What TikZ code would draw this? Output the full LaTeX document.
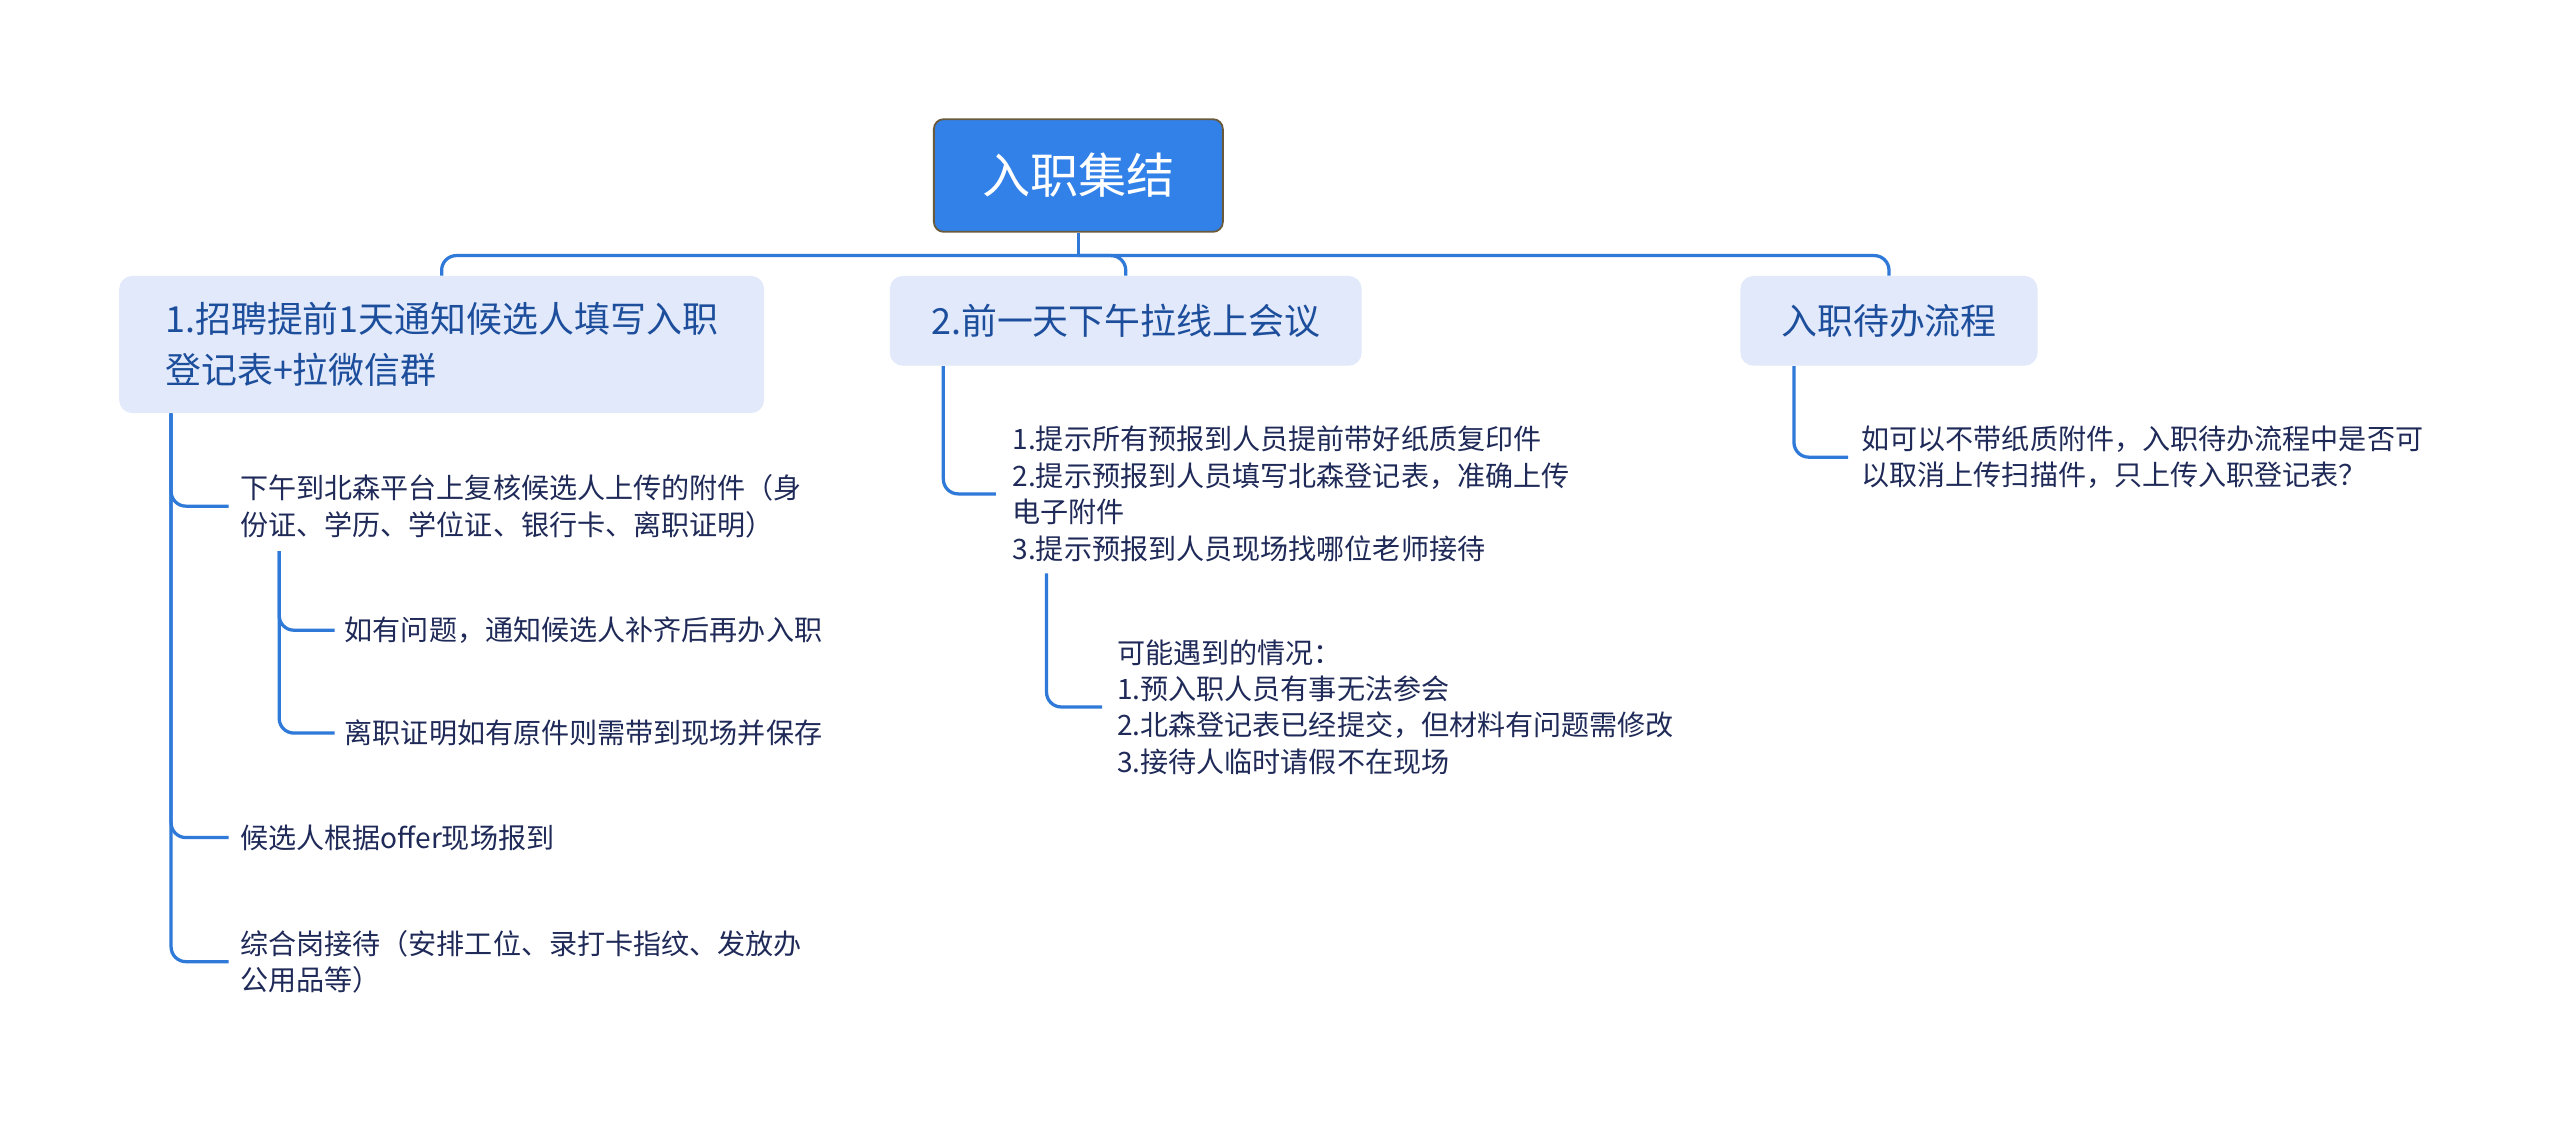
\documentclass[tikz,border=0pt]{standalone}
\usepackage{fontspec}
\setmainfont{Noto Sans CJK SC}
\definecolor{rootfill}{HTML}{3281E8}
\definecolor{rootline}{HTML}{6A5A3C}
\definecolor{boxfill}{HTML}{E2E9FB}
\definecolor{boxtext}{HTML}{1C4E9C}
\definecolor{leaftext}{HTML}{1F2A58}
\definecolor{conncol}{HTML}{2F7AD8}
\tikzset{
  rootbox/.style={draw=rootline, line width=1.1pt, fill=rootfill, rounded corners=6pt,
    text=white, font=\fontsize{29.5}{35}\selectfont, minimum width=177pt, minimum height=69pt, inner sep=0pt},
  branchbox/.style={fill=boxfill, rounded corners=8pt, text=boxtext,
    font=\fontsize{22}{31}\selectfont, align=left, inner sep=0pt},
  leaf/.style={anchor=west, text=leaftext, font=\fontsize{17.2}{22.3}\selectfont, align=left, inner sep=0pt},
  conn/.style={draw=conncol, line width=2pt, rounded corners=9pt}
}
\begin{document}
\begin{tikzpicture}[x=1pt,y=-1pt]
\useasboundingbox (0,0) rectangle (1568,691);
\fill[white] (0,0) rectangle (1568,691);
% root
\node[rootbox] (root) at (660.5,107.5) {入职集结};
% branches
\node[branchbox, minimum width=395pt, minimum height=84pt] (b1) at (270.5,211) {1.招聘提前1天通知候选人填写入职\\登记表+拉微信群};
\node[branchbox, minimum width=289pt, minimum height=55pt] (b2) at (689.5,196.5) {2.前一天下午拉线上会议};
\node[branchbox, minimum width=182pt, minimum height=55pt] (b3) at (1157,196.5) {入职待办流程};
% leaves
\node[leaf] (c11) at (147,310) {下午到北森平台上复核候选人上传的附件（身\\份证、学历、学位证、银行卡、离职证明）};
\node[leaf] (c111) at (211,386) {如有问题，通知候选人补齐后再办入职};
\node[leaf] (c112) at (211,449) {离职证明如有原件则需带到现场并保存};
\node[leaf] (c12) at (147,513) {候选人根据offer现场报到};
\node[leaf] (c13) at (147,589) {综合岗接待（安排工位、录打卡指纹、发放办\\公用品等）};
\node[leaf] (c21) at (620,302.5) {1.提示所有预报到人员提前带好纸质复印件\\2.提示预报到人员填写北森登记表，准确上传\\电子附件\\3.提示预报到人员现场找哪位老师接待};
\node[leaf] (c211) at (684,433) {可能遇到的情况：\\1.预入职人员有事无法参会\\2.北森登记表已经提交，但材料有问题需修改\\3.接待人临时请假不在现场};
\node[leaf] (c31) at (1140,280) {如可以不带纸质附件，入职待办流程中是否可\\以取消上传扫描件，只上传入职登记表？};
% root to branches
\draw[conn] (root.south) -- ++(0,14) coordinate (hub);
\draw[conn] (hub) -| (b1.north);
\draw[conn] (hub) -| (b2.north);
\draw[conn] (hub) -| (b3.north);
% branch 1
\draw[conn] ([xshift=32pt]b1.south west) |- ([xshift=-7pt]c11.west);
\draw[conn] ([xshift=32pt]b1.south west) |- ([xshift=-7pt]c12.west);
\draw[conn] ([xshift=32pt]b1.south west) |- ([xshift=-7pt]c13.west);
\draw[conn] ([xshift=24pt,yshift=-8pt]c11.south west) |- ([xshift=-6pt]c111.west);
\draw[conn] ([xshift=24pt,yshift=-8pt]c11.south west) |- ([xshift=-6pt]c112.west);
% branch 2
\draw[conn] ([xshift=33pt]b2.south west) |- ([xshift=-10pt]c21.west);
\draw[conn] ([xshift=21pt,yshift=-7pt]c21.south west) |- ([xshift=-9pt]c211.west);
% branch 3
\draw[conn] ([xshift=33pt]b3.south west) |- ([xshift=-8pt]c31.west);
\end{tikzpicture}
\end{document}
